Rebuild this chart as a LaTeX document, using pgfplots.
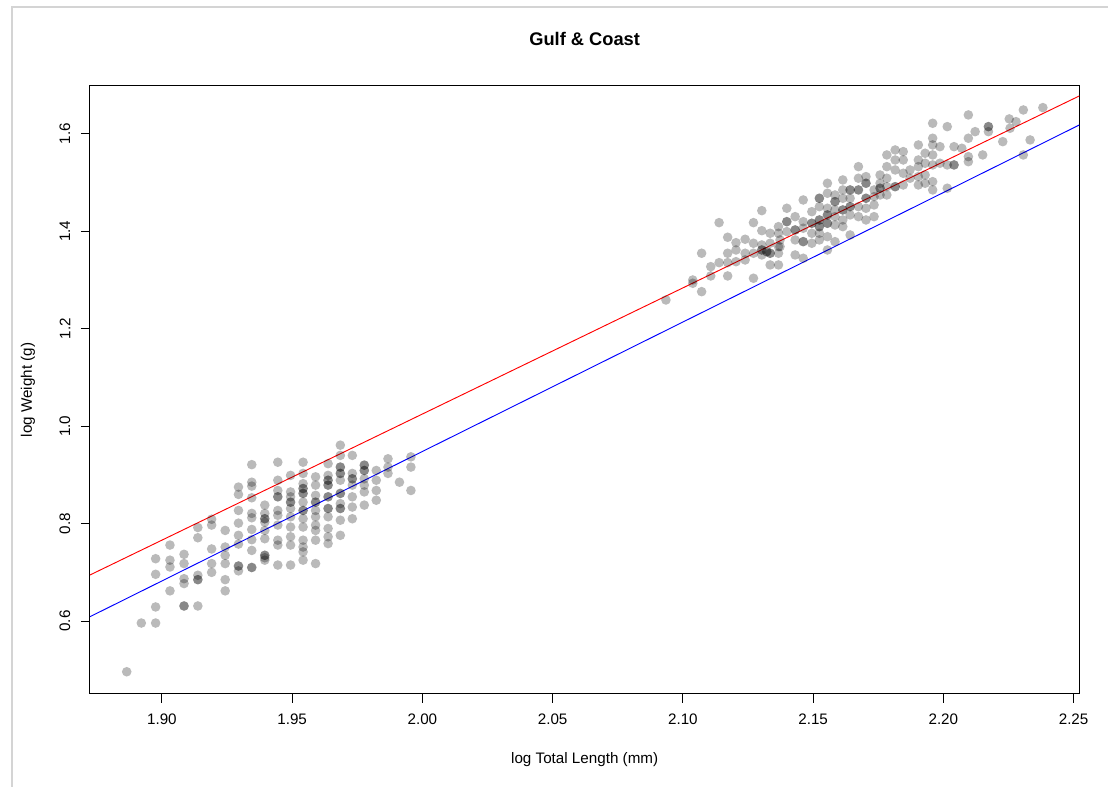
\documentclass[border=0pt]{standalone}
\usepackage{fontspec}
\setmainfont{Liberation Sans}
\usepackage{pgfplots}
\usepackage{pgfplotstable}
\pgfplotsset{compat=1.18}
\definecolor{framegray}{RGB}{212,212,212}

\pgfplotstableread{
x y
1.8865 0.496
1.8921 0.596
1.8976 0.728
1.8976 0.696
1.8976 0.629
1.8976 0.596
1.9031 0.756
1.9031 0.725
1.9031 0.711
1.9031 0.662
1.9085 0.737
1.9085 0.718
1.9085 0.687
1.9085 0.677
1.9085 0.631
1.9085 0.631
1.9138 0.792
1.9138 0.771
1.9138 0.694
1.9138 0.685
1.9138 0.685
1.9138 0.631
1.9191 0.809
1.9191 0.797
1.9191 0.748
1.9191 0.718
1.9191 0.700
1.9243 0.786
1.9243 0.752
1.9243 0.735
1.9243 0.718
1.9243 0.685
1.9243 0.662
1.9294 0.875
1.9294 0.860
1.9294 0.827
1.9294 0.801
1.9294 0.776
1.9294 0.758
1.9294 0.713
1.9294 0.713
1.9294 0.703
1.9345 0.921
1.9345 0.885
1.9345 0.877
1.9345 0.853
1.9345 0.821
1.9345 0.812
1.9345 0.788
1.9345 0.767
1.9345 0.745
1.9345 0.710
1.9345 0.710
1.9395 0.838
1.9395 0.821
1.9395 0.810
1.9395 0.810
1.9395 0.803
1.9395 0.786
1.9395 0.769
1.9395 0.735
1.9395 0.735
1.9395 0.730
1.9395 0.725
1.9445 0.926
1.9445 0.889
1.9445 0.868
1.9445 0.855
1.9445 0.855
1.9445 0.827
1.9445 0.817
1.9445 0.797
1.9445 0.766
1.9445 0.756
1.9445 0.715
1.9494 0.899
1.9494 0.865
1.9494 0.855
1.9494 0.844
1.9494 0.844
1.9494 0.831
1.9494 0.814
1.9494 0.793
1.9494 0.773
1.9494 0.756
1.9494 0.715
1.9542 0.926
1.9542 0.903
1.9542 0.882
1.9542 0.872
1.9542 0.872
1.9542 0.862
1.9542 0.862
1.9542 0.844
1.9542 0.827
1.9542 0.827
1.9542 0.810
1.9542 0.793
1.9542 0.766
1.9542 0.752
1.9542 0.742
1.9542 0.725
1.9590 0.896
1.9590 0.879
1.9590 0.858
1.9590 0.844
1.9590 0.844
1.9590 0.827
1.9590 0.814
1.9590 0.797
1.9590 0.786
1.9590 0.766
1.9590 0.718
1.9638 0.923
1.9638 0.899
1.9638 0.889
1.9638 0.889
1.9638 0.879
1.9638 0.879
1.9638 0.855
1.9638 0.855
1.9638 0.831
1.9638 0.831
1.9638 0.814
1.9638 0.790
1.9638 0.773
1.9638 0.759
1.9685 0.961
1.9685 0.940
1.9685 0.916
1.9685 0.916
1.9685 0.903
1.9685 0.903
1.9685 0.889
1.9685 0.862
1.9685 0.862
1.9685 0.841
1.9685 0.831
1.9685 0.831
1.9685 0.807
1.9685 0.776
1.9731 0.940
1.9731 0.903
1.9731 0.892
1.9731 0.892
1.9731 0.879
1.9731 0.855
1.9731 0.834
1.9731 0.810
1.9777 0.920
1.9777 0.920
1.9777 0.909
1.9777 0.909
1.9777 0.892
1.9777 0.879
1.9777 0.865
1.9777 0.838
1.9823 0.909
1.9823 0.889
1.9823 0.868
1.9823 0.848
1.9868 0.933
1.9868 0.916
1.9868 0.903
1.9912 0.885
1.9956 0.937
1.9956 0.916
1.9956 0.868
}\smallfish

\pgfplotstableread{
x y
2.0935 1.2589
2.1038 1.2999
2.1038 1.2932
2.1072 1.2760
2.1072 1.3548
2.1107 1.3273
2.1107 1.3082
2.1139 1.4176
2.1139 1.3355
2.1172 1.3876
2.1172 1.3548
2.1172 1.3355
2.1172 1.3082
2.1204 1.3765
2.1204 1.3615
2.1204 1.3375
2.1239 1.3835
2.1239 1.3548
2.1239 1.3410
2.1271 1.4176
2.1271 1.3753
2.1271 1.3548
2.1271 1.3035
2.1303 1.4422
2.1303 1.4011
2.1303 1.3718
2.1303 1.3615
2.1303 1.3615
2.1303 1.3513
2.1322 1.3580
2.1322 1.3580
2.1335 1.3958
2.1335 1.3753
2.1335 1.3548
2.1335 1.3548
2.1335 1.3308
2.1367 1.4094
2.1367 1.3958
2.1367 1.3683
2.1367 1.3548
2.1367 1.3308
2.1373 1.3821
2.1373 1.3683
2.1399 1.4471
2.1399 1.4196
2.1399 1.4196
2.1399 1.3991
2.1431 1.4299
2.1431 1.4026
2.1431 1.4026
2.1431 1.3821
2.1431 1.3513
2.1462 1.4641
2.1462 1.4196
2.1462 1.4061
2.1462 1.3786
2.1462 1.3786
2.1462 1.3445
2.1495 1.4401
2.1495 1.4163
2.1495 1.4163
2.1495 1.3958
2.1495 1.3753
2.1524 1.4676
2.1524 1.4676
2.1524 1.4504
2.1524 1.4231
2.1524 1.4231
2.1524 1.4094
2.1524 1.4094
2.1524 1.3958
2.1524 1.3821
2.1555 1.4984
2.1555 1.4779
2.1555 1.4471
2.1555 1.4334
2.1555 1.4334
2.1555 1.4163
2.1555 1.4163
2.1555 1.3888
2.1555 1.3615
2.1584 1.4744
2.1584 1.4607
2.1584 1.4607
2.1584 1.4436
2.1584 1.4299
2.1584 1.4128
2.1584 1.3786
2.1614 1.5052
2.1614 1.4847
2.1614 1.4676
2.1614 1.4436
2.1614 1.4436
2.1614 1.4231
2.1614 1.4094
2.1642 1.4847
2.1642 1.4847
2.1642 1.4676
2.1642 1.4504
2.1642 1.4504
2.1642 1.4334
2.1642 1.3923
2.1674 1.5325
2.1674 1.5087
2.1674 1.4847
2.1674 1.4847
2.1674 1.4504
2.1674 1.4299
2.1703 1.5120
2.1703 1.4984
2.1703 1.4984
2.1703 1.4676
2.1703 1.4676
2.1703 1.4471
2.1703 1.4231
2.1734 1.4847
2.1734 1.4709
2.1734 1.4539
2.1734 1.4299
2.1757 1.5154
2.1757 1.4984
2.1757 1.4882
2.1757 1.4882
2.1757 1.4744
2.1783 1.5565
2.1783 1.5325
2.1783 1.5087
2.1783 1.4914
2.1783 1.4744
2.1815 1.5667
2.1815 1.5462
2.1815 1.5257
2.1815 1.4914
2.1815 1.4914
2.1846 1.5633
2.1846 1.5462
2.1846 1.5189
2.1846 1.4949
2.1872 1.5257
2.1872 1.5087
2.1904 1.5770
2.1904 1.5462
2.1904 1.5325
2.1904 1.5120
2.1904 1.4949
2.1930 1.5600
2.1930 1.5395
2.1930 1.5154
2.1930 1.4984
2.1959 1.6215
2.1959 1.5908
2.1959 1.5770
2.1959 1.5565
2.1959 1.5360
2.1959 1.5017
2.1959 1.4847
2.1987 1.5735
2.1987 1.5395
2.2015 1.6146
2.2015 1.5360
2.2015 1.4882
2.2041 1.5735
2.2041 1.5360
2.2041 1.5360
2.2071 1.5702
2.2096 1.6386
2.2096 1.5908
2.2096 1.5530
2.2096 1.5427
2.2122 1.6043
2.2151 1.5565
2.2173 1.6146
2.2173 1.6146
2.2173 1.6043
2.2228 1.5838
2.2253 1.6304
2.2256 1.6113
2.2279 1.6248
2.2307 1.6488
2.2307 1.5565
2.2333 1.5873
2.2382 1.6536
}\largefish

\begin{document}
\begin{tikzpicture}
\useasboundingbox (-67.5pt,-69.75pt) rectangle (763.5pt,520.5pt);
\draw[framegray, line width=0.9pt] (-58.5pt,-69.75pt) -- (-58.5pt,515.25pt) -- (763.5pt,515.25pt);
\begin{axis}[
  at={(0pt,0pt)}, anchor=south west,
  scale only axis, width=742pt, height=456pt,
  xmin=1.8724, xmax=2.2522, ymin=0.4504, ymax=1.6980,
  axis line style={line width=0.75pt},
  every tick/.style={black, line width=0.75pt},
  tick align=outside, major tick length=6.75pt,
  xtick pos=bottom, ytick pos=left,
  xtick={1.90,1.95,2.00,2.05,2.10,2.15,2.20,2.25},
  ytick={0.6,0.8,1.0,1.2,1.4,1.6},
  scaled ticks=false,
  /pgf/number format/assume math mode=true,
  xticklabel style={/pgf/number format/fixed, /pgf/number format/fixed zerofill, /pgf/number format/precision=2, anchor=center, yshift=-12pt},
  yticklabel style={/pgf/number format/fixed, /pgf/number format/fixed zerofill, /pgf/number format/precision=1, xshift=-12pt, rotate=90, anchor=center},
  every tick label/.append style={font=\fontsize{11.4pt}{13.7pt}\selectfont},
  title={Gulf \& Coast},
  title style={at={(axis description cs:0.5,1.0641)}, anchor=center, font=\fontsize{13.7pt}{16pt}\selectfont\bfseries},
  xlabel={log Total Length (mm)},
  xlabel style={at={(axis description cs:0.5,-0.1075)}, anchor=center, font=\fontsize{11.4pt}{13.7pt}\selectfont},
  ylabel={log Weight (g)},
  ylabel style={at={(axis description cs:-0.0627,0.5)}, anchor=center, font=\fontsize{11.4pt}{13.7pt}\selectfont},
  clip=true,
]
\addplot[only marks, mark=*, mark size=3.6pt, draw opacity=0, mark options={draw opacity=0, line width=0pt, fill=black, fill opacity=0.27}] table[x=x, y=y] {\smallfish};
\addplot[only marks, mark=*, mark size=3.6pt, draw opacity=0, mark options={draw opacity=0, line width=0pt, fill=black, fill opacity=0.27}] table[x=x, y=y] {\largefish};
\addplot[red, line width=0.7pt] coordinates {(1.8724,0.6946) (2.2522,1.6776)};
\addplot[blue, line width=0.7pt] coordinates {(1.8724,0.6090) (2.2522,1.6180)};
\end{axis}
\end{tikzpicture}
\end{document}
